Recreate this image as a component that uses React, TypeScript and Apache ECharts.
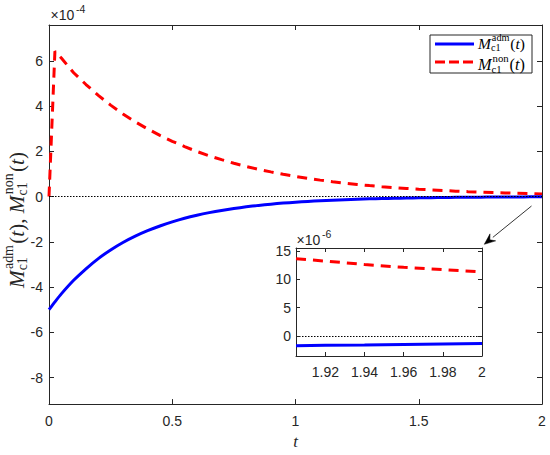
import React, { useEffect, useRef } from "react";
import * as echarts from "echarts";

// ---- data (values in units of 1e-4 for the main plot, 1e-6 for the inset) ----
const tAdm = [0, 0.025, 0.05, 0.1, 0.15, 0.2, 0.25, 0.3, 0.35, 0.4, 0.45, 0.5, 0.55, 0.6, 0.65, 0.7, 0.75, 0.8, 0.85, 0.9, 0.95, 1.0, 1.05, 1.1, 1.15, 1.2, 1.25, 1.3, 1.35, 1.4, 1.45, 1.5, 1.55, 1.6, 1.65, 1.7, 1.75, 1.8, 1.85, 1.9, 1.95, 2.0];
const mAdm = [-5.0, -4.64, -4.3, -3.7, -3.19, -2.74, -2.36, -2.03, -1.75, -1.51, -1.3, -1.12, -0.96, -0.826, -0.711, -0.612, -0.527, -0.454, -0.39, -0.336, -0.289, -0.249, -0.214, -0.184, -0.159, -0.137, -0.118, -0.101, -0.087, -0.075, -0.064, -0.056, -0.048, -0.041, -0.035, -0.03, -0.026, -0.023, -0.019, -0.017, -0.014, -0.012];
const tNon = [0, 0.024, 0.05, 0.1, 0.15, 0.2, 0.25, 0.3, 0.35, 0.4, 0.45, 0.5, 0.55, 0.6, 0.65, 0.7, 0.75, 0.8, 0.85, 0.9, 0.95, 1.0, 1.05, 1.1, 1.15, 1.2, 1.25, 1.3, 1.35, 1.4, 1.45, 1.5, 1.55, 1.6, 1.65, 1.7, 1.75, 1.8, 1.85, 1.9, 1.95, 2.0];
const mNon = [0, 6.42, 6.12, 5.47, 4.95, 4.47, 4.04, 3.65, 3.3, 2.99, 2.7, 2.44, 2.21, 1.99, 1.8, 1.63, 1.47, 1.33, 1.2, 1.09, 0.983, 0.889, 0.803, 0.726, 0.657, 0.593, 0.536, 0.485, 0.438, 0.396, 0.358, 0.324, 0.293, 0.265, 0.239, 0.216, 0.196, 0.177, 0.16, 0.144, 0.13, 0.118];

const tInset = [1.905, 1.92, 1.94, 1.96, 1.98, 2.0];
const mAdmInset = [-1.7, -1.63, -1.55, -1.46, -1.38, -1.3];
const mNonInset = [13.6, 13.2, 12.6, 12.1, 11.7, 11.3];

const mainXTicks = [0, 0.5, 1, 1.5, 2];
const mainYTicks = [-8, -6, -4, -2, 0, 2, 4, 6];
const insetXTicks = [1.92, 1.94, 1.96, 1.98, 2];
const insetYTicks = [0, 5, 10, 15];

const mainXRange = [0, 2];
const mainYRange = [-9.17, 7.58];
const insetXRange = [1.905, 2];
const insetYRange = [-3.5, 15.5];

// ---- styling ----
const AX = "#262626";
const SANS = "'Liberation Sans', Arial, Helvetica, sans-serif";
const SERIF = "'Liberation Serif', 'DejaVu Serif', serif";
const BLUE = "#0000ff";
const RED = "#ff0000";

let measureCtx: CanvasRenderingContext2D | null = null;
function tw(text: string, size: number, italic: boolean): number {
  if (!measureCtx) measureCtx = document.createElement("canvas").getContext("2d");
  const ctx = measureCtx!;
  ctx.font = `${italic ? "italic " : ""}${size}px ${SERIF}`;
  return ctx.measureText(text).width;
}

type Seg = { t: string; it?: boolean } | { sup: string; sub: string };

function textEl(text: string, x: number, y: number, size: number, italic: boolean, color: string, z: number, small: boolean) {
  return {
    type: "text",
    x,
    y,
    z,
    style: {
      text,
      fontSize: size,
      fontFamily: SERIF,
      fontStyle: italic ? "italic" : "normal",
      fill: color,
      align: "left",
      verticalAlign: "middle",
      lineHeight: small ? size * 0.8 : size,
    },
  };
}

function layoutMath(segs: Seg[], size: number, color: string, z: number) {
  let x = 0;
  const els: any[] = [];
  for (const s of segs) {
    if ("sup" in s) {
      const ss = size * 0.66;
      const w1 = tw(s.sup, ss, false);
      const w2 = tw(s.sub, ss, false);
      els.push(textEl(s.sup, x + size * 0.06, -size * 0.39, ss, false, color, z, true));
      els.push(textEl(s.sub, x, size * 0.26, ss, false, color, z, true));
      x += Math.max(w1 + size * 0.06, w2) + size * 0.06;
    } else {
      const it = !!s.it;
      els.push(textEl(s.t, x, 0, size, it, color, z, false));
      x += tw(s.t, size, it);
    }
  }
  return { els, width: x };
}

function fitMath(segs: Seg[], targetWidth: number, color: string, z: number) {
  const w10 = layoutMath(segs, 10, color, z).width;
  const size = (10 * targetWidth) / w10;
  return layoutMath(segs, size, color, z);
}

const admSegs: Seg[] = [{ t: "M", it: true }, { sup: "adm", sub: "c1" }, { t: "(" }, { t: "t", it: true }, { t: ")" }];
const nonSegs: Seg[] = [{ t: "M", it: true }, { sup: "non", sub: "c1" }, { t: "(" }, { t: "t", it: true }, { t: ")" }];

function xAxisDef(gridIndex: number, range: number[], ticks: number[], top: boolean, tickLen: number, margin: number, extra: any = {}) {
  return {
    type: "value",
    gridIndex,
    position: top ? "top" : "bottom",
    min: range[0],
    max: range[1],
    axisLine: { show: true, onZero: false, lineStyle: { color: AX, width: 1 } },
    axisTick: { show: true, inside: true, length: tickLen, customValues: ticks, lineStyle: { color: AX, width: 1 } },
    axisLabel: top
      ? { show: false }
      : { show: true, customValues: ticks, margin, color: AX, fontSize: 14, fontFamily: SANS },
    splitLine: { show: false },
    ...extra,
  };
}

function yAxisDef(gridIndex: number, range: number[], ticks: number[], right: boolean, tickLen: number, margin: number) {
  return {
    type: "value",
    gridIndex,
    position: right ? "right" : "left",
    min: range[0],
    max: range[1],
    axisLine: { show: true, onZero: false, lineStyle: { color: AX, width: 1 } },
    axisTick: { show: true, inside: true, length: tickLen, customValues: ticks, lineStyle: { color: AX, width: 1 } },
    axisLabel: right
      ? { show: false }
      : { show: true, customValues: ticks, margin, color: AX, fontSize: 14, fontFamily: SANS },
    splitLine: { show: false },
  };
}

function buildOption() {
  const zeroLine = {
    silent: true,
    symbol: ["none", "none"],
    label: { show: false },
    lineStyle: { type: [1.5, 1.5], color: "#000", width: 1 },
    data: [{ yAxis: 0 }],
  };

  // y-axis label (rotated math text)
  const yLabelSegs: Seg[] = [...admSegs, { t: ", " }, ...nonSegs];
  const yLab = fitMath(yLabelSegs, 136, AX, 5);
  const yLabelGroup = {
    type: "group",
    x: 17,
    y: 220 + yLab.width / 2,
    rotation: Math.PI / 2,
    children: yLab.els,
  };

  // legend
  const legAdm = fitMath(admSegs, 47, "#000", 12);
  const legNon = fitMath(nonSegs, 47, "#000", 12);

  // arrow
  const tail = [531.5, 206];
  const tip = [484.3, 244.3];
  const dx = tip[0] - tail[0];
  const dy = tip[1] - tail[1];
  const len = Math.hypot(dx, dy);
  const ux = dx / len;
  const uy = dy / len;
  const nx = -uy;
  const ny = ux;
  const L = 11;
  const W = 4.5;
  const base = [tip[0] - ux * L, tip[1] - uy * L];
  const back = [tip[0] - ux * L * 0.65, tip[1] - uy * L * 0.65];

  const graphic: any[] = [
    yLabelGroup,
    // ×10^-4
    { type: "text", x: 50.5, y: 15, style: { text: "×10", fontSize: 14, fontFamily: SANS, fill: AX, align: "left", verticalAlign: "middle" } },
    { type: "text", x: 76, y: 9, style: { text: "-4", fontSize: 10.5, fontFamily: SANS, fill: AX, align: "left", verticalAlign: "middle" } },
    // ×10^-6
    { type: "text", x: 296.5, y: 240, style: { text: "×10", fontSize: 14, fontFamily: SANS, fill: AX, align: "left", verticalAlign: "middle" }, z: 10 },
    { type: "text", x: 322, y: 234, style: { text: "-6", fontSize: 10.5, fontFamily: SANS, fill: AX, align: "left", verticalAlign: "middle" }, z: 10 },
    // legend
    { type: "rect", shape: { x: 430, y: 35, width: 102, height: 38 }, style: { fill: "#fff", stroke: AX, lineWidth: 1 }, z: 10 },
    { type: "line", shape: { x1: 435, y1: 44, x2: 474, y2: 44 }, style: { stroke: BLUE, lineWidth: 3 }, z: 11 },
    { type: "line", shape: { x1: 435, y1: 62, x2: 474, y2: 62 }, style: { stroke: RED, lineWidth: 3, lineDash: [10, 4] }, z: 11 },
    { type: "group", x: 478, y: 43.5, children: legAdm.els },
    { type: "group", x: 478, y: 64.5, children: legNon.els },
    // arrow
    { type: "line", shape: { x1: tail[0], y1: tail[1], x2: base[0], y2: base[1] }, style: { stroke: "#000", lineWidth: 0.8 }, z: 10 },
    {
      type: "polygon",
      shape: {
        points: [
          tip,
          [base[0] + nx * W, base[1] + ny * W],
          back,
          [base[0] - nx * W, base[1] - ny * W],
        ],
      },
      style: { fill: "#000", stroke: "#000", lineWidth: 0.5 },
      z: 10,
    },
  ];

  return {
    animation: false,
    backgroundColor: "#fff",
    grid: [
      { left: 49, top: 25, width: 493, height: 383, show: true, backgroundColor: "#fff", borderWidth: 0 },
      { left: 296, top: 248, width: 186, height: 108, show: true, backgroundColor: "#fff", borderWidth: 0, z: 5 },
    ],
    xAxis: [
      xAxisDef(0, mainXRange, mainXTicks, false, 5, 10, {
        name: "t",
        nameLocation: "middle",
        nameGap: 28,
        nameTextStyle: { fontFamily: SERIF, fontStyle: "italic", fontSize: 17, color: AX },
      }),
      xAxisDef(0, mainXRange, mainXTicks, true, 5, 0),
      { ...xAxisDef(1, insetXRange, insetXTicks, false, 4, 9), z: 6 },
      { ...xAxisDef(1, insetXRange, insetXTicks, true, 4, 0), z: 6 },
    ],
    yAxis: [
      yAxisDef(0, mainYRange, mainYTicks, false, 5, 6),
      yAxisDef(0, mainYRange, mainYTicks, true, 5, 0),
      { ...yAxisDef(1, insetYRange, insetYTicks, false, 4, 5), z: 6 },
      { ...yAxisDef(1, insetYRange, insetYTicks, true, 4, 0), z: 6 },
    ],
    series: [
      {
        name: "non",
        type: "line",
        xAxisIndex: 0,
        yAxisIndex: 0,
        data: tNon.map((t, i) => [t, mNon[i]]),
        showSymbol: false,
        symbol: "none",
        lineStyle: { color: RED, width: 3, type: [10, 7] },
        markLine: zeroLine,
        z: 2,
      },
      {
        name: "adm",
        type: "line",
        xAxisIndex: 0,
        yAxisIndex: 0,
        data: tAdm.map((t, i) => [t, mAdm[i]]),
        showSymbol: false,
        symbol: "none",
        smooth: 0.2,
        lineStyle: { color: BLUE, width: 3 },
        z: 3,
      },
      {
        name: "non-inset",
        type: "line",
        xAxisIndex: 2,
        yAxisIndex: 2,
        data: tInset.map((t, i) => [t, mNonInset[i]]),
        showSymbol: false,
        symbol: "none",
        lineStyle: { color: RED, width: 3, type: [10, 7] },
        markLine: zeroLine,
        z: 7,
      },
      {
        name: "adm-inset",
        type: "line",
        xAxisIndex: 2,
        yAxisIndex: 2,
        data: tInset.map((t, i) => [t, mAdmInset[i]]),
        showSymbol: false,
        symbol: "none",
        lineStyle: { color: BLUE, width: 3 },
        z: 8,
      },
    ],
    graphic,
  };
}

export default function App() {
  const ref = useRef<HTMLDivElement>(null);
  useEffect(() => {
    document.body.style.margin = "0";
    const chart = echarts.init(ref.current!, undefined, { renderer: "svg" });
    chart.setOption(buildOption() as any);
    return () => chart.dispose();
  }, []);
  return <div ref={ref} style={{ width: 550, height: 455, background: "#fff" }} />;
}
